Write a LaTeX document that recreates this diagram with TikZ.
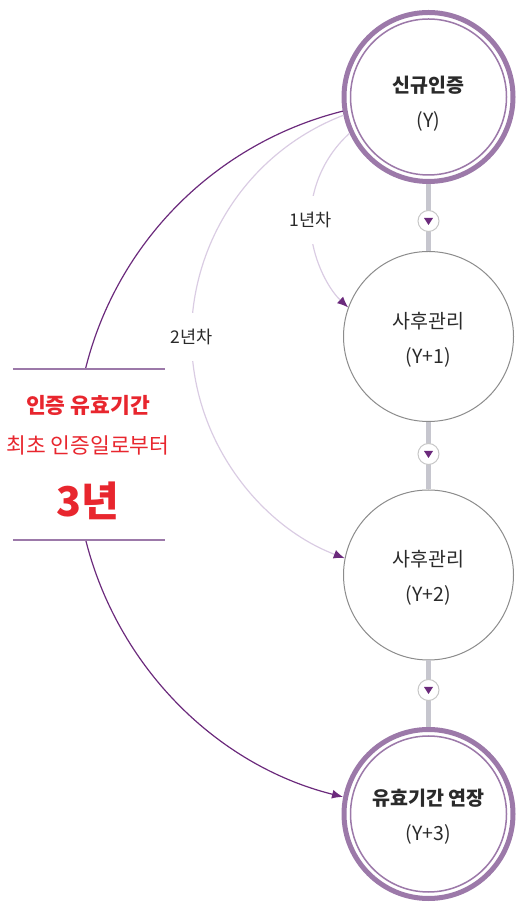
\documentclass[tikz,border=0pt]{standalone}
\usepackage{fontspec}
\setmainfont{Noto Sans CJK KR}
\usetikzlibrary{arrows.meta}

\definecolor{ring}{HTML}{9C79A9}
\definecolor{plum}{HTML}{6B2A7C}
\definecolor{lilac}{HTML}{DACCE3}
\definecolor{spinegray}{HTML}{C6C6CE}
\definecolor{alert}{HTML}{E8262E}
\definecolor{ink}{HTML}{2A2A2A}

\tikzset{
	stage/.style={circle, draw=black!45, line width=1pt, fill=white, minimum size=170pt, inner sep=0pt, align=center, text=ink, font=\fontsize{19.5}{35}\selectfont},
	milestone/.style={stage, draw=ring, line width=5pt, minimum size=169pt},
	marker/.style={circle, draw=black!22, line width=1pt, fill=white, minimum size=21pt, inner sep=0pt,
		path picture={\fill [plum] ([shift={(-4.5pt,3pt)}]path picture bounding box.center) -- ++(9pt,0pt) -- ++(-4.5pt,-7pt) -- cycle;}},
	spine/.style={spinegray, line width=4.5pt},
	span/.style={plum, line width=1.2pt},
	year/.style={lilac, line width=1.2pt},
	tip/.style={-{Latex[length=11pt, width=9pt, color=plum]}},
	gap/.style={fill=white, inner xsep=2pt, inner ysep=16pt, text=ink, font=\fontsize{17.5}{20}\selectfont},
	rule/.style={ring, line width=1.5pt},
	red text/.style={anchor=base, text=alert}
}

\begin{document}
\begin{tikzpicture}[x=1pt, y=1pt]
	\useasboundingbox (0,0) rectangle (515,902);
	\node [milestone] (top) at (428.5, 805) {};
	\node [stage] (care1) at (428.5, 565.5) {};
	\node [stage] (care2) at (428.5, 327) {};
	\node [milestone] (ext) at (428.5, 88) {};
	\node [stage, draw=none, fill=none, yshift=-7pt] (top text) at (top) {\textbf{신규인증}\\(Y)};
	\node [stage, draw=none, fill=none, yshift=-3pt] (care1 text) at (care1) {사후관리\\(Y+1)};
	\node [stage, draw=none, fill=none, yshift=-3pt] (care2 text) at (care2) {사후관리\\(Y+2)};
	\node [stage, draw=none, fill=none, yshift=-3pt] (ext text) at (ext) {\textbf{유효기간 연장}\\(Y+3)};
	\draw [ring, line width=1.5pt] (top.center) circle [radius=78];
	\draw [ring, line width=1.5pt] (ext.center) circle [radius=78];
	\draw [spine] (top) -- (care1);
	\draw [spine] (care1) -- (care2);
	\draw [spine] (care2) -- (ext);
	\node [marker] (m1) at (428.5, 681) {};
	\node [marker] (m2) at (428.5, 448) {};
	\node [marker] (m3) at (428.5, 212) {};
	\draw [year, tip] (m1) ++(132.1:118) arc [start angle=132.1, end angle=227.1, radius=118] node [gap, pos=0.5] (first) {1년차};
	\draw [year, tip] (care1) ++(111:237) arc [start angle=111, end angle=249.3, radius=237] node [gap, pos=0.5] (second) {2년차};
	\draw [span] (m2) ++(104:353.4) arc [start angle=104, end angle=166, radius=353.4];
	\draw [span, tip] (m2) ++(194:353.4) arc [start angle=194, end angle=256, radius=353.4];
	\node [minimum width=152pt, minimum height=171pt, inner sep=0pt] (period) at (89, 447.5) {};
	\draw [rule] (period.north west) -- (period.north east);
	\draw [rule] (period.south west) -- (period.south east);
	\node [red text, font=\bfseries\fontsize{21.5}{22}\selectfont] (title) at (88, 488) {인증 유효기간};
	\node [red text, font=\fontsize{21.5}{22}\selectfont] (since) at (88, 448) {최초 인증일로부터};
	\node [red text, font=\bfseries\fontsize{41}{41}\selectfont] (term) at (88, 385) {3년};
\end{tikzpicture}
\end{document}
